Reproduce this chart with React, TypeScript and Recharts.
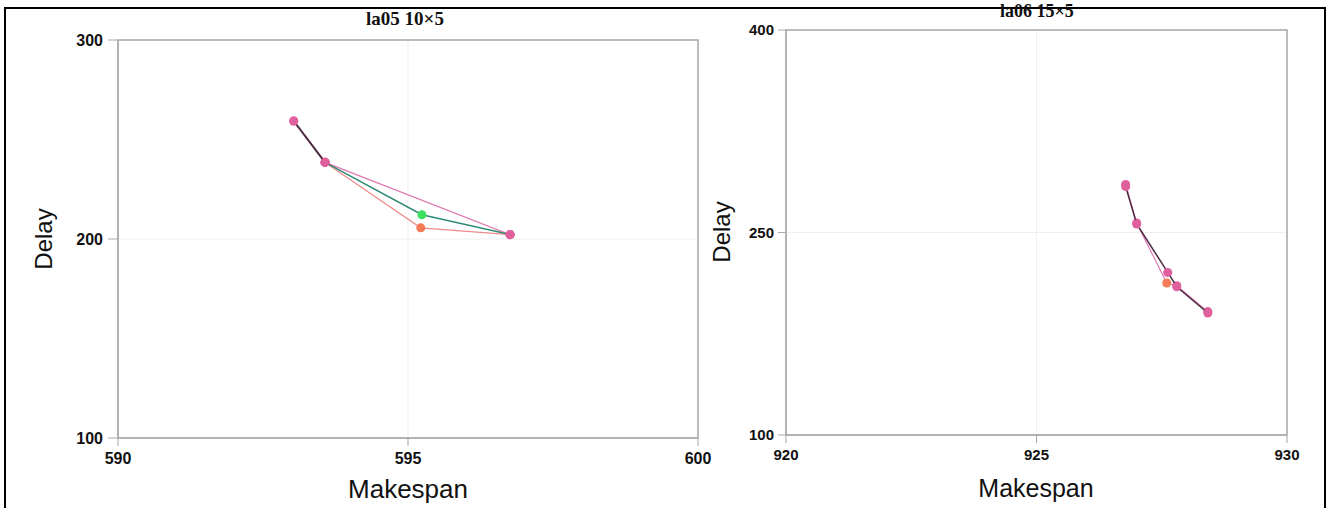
import React from 'react'
import {
  ScatterChart,
  Scatter,
  XAxis,
  YAxis,
  CartesianGrid,
  ReferenceArea,
  Label,
  Cell,
} from 'recharts'

// la05 10x5 (left panel)
const la05DarkPath = [
  { x: 593.03, y: 259.3 },
  { x: 593.57, y: 238.5 },
]
const la05PinkPath = [
  { x: 593.03, y: 259.3 },
  { x: 593.57, y: 238.5 },
  { x: 596.76, y: 202.2 },
]
const la05GreenPath = [
  { x: 593.57, y: 238.5 },
  { x: 595.24, y: 212.2 },
  { x: 596.76, y: 202.2 },
]
const la05RedPath = [
  { x: 593.57, y: 238.5 },
  { x: 595.22, y: 205.6 },
  { x: 596.76, y: 202.2 },
]
const la05XTicks = [590, 595, 600]
const la05YTicks = [100, 200, 300]

// la06 15x5 (right panel)
const la06DarkPath = [
  { x: 926.78, y: 284.0 },
  { x: 927.0, y: 256.3 },
  { x: 927.62, y: 220.4 },
  { x: 927.8, y: 209.8 },
  { x: 928.42, y: 190.4 },
]
const la06PinkPath = [
  { x: 926.78, y: 285.6 },
  { x: 927.0, y: 257.0 },
  { x: 927.6, y: 212.6 },
  { x: 927.8, y: 210.6 },
  { x: 928.42, y: 191.4 },
]
const la06PinkMarks = ['#e0609e', '#e0609e', '#f47a58', '#e0609e', '#e0609e']
const la06XTicks = [920, 925, 930]
const la06YTicks = [100, 250, 400]

const tickFont = { fontFamily: 'Liberation Sans, Arial', fontWeight: 700, fill: '#111' }
const axisGray = '#a8a8a8'
const pinkMark = '#e0609e'

const axisTitle = (text: string, x: number, y: number, rotate: boolean, size = 24) => () => (
  <text
    x={x}
    y={y}
    textAnchor="middle"
    transform={rotate ? `rotate(-90 ${x} ${y})` : undefined}
    fontFamily="Liberation Sans, Arial"
    fontSize={size}
    fill="#111"
  >
    {text}
  </text>
)

export default function App() {
  return (
    <div style={{ position: 'absolute', left: 0, top: 0, width: 1326, height: 508, background: '#fff', overflow: 'hidden' }}>
      <div
        style={{
          position: 'absolute',
          left: 4,
          top: 7,
          width: 1318,
          height: 510,
          borderTop: '2px solid #000',
          borderLeft: '2px solid #000',
          borderRight: '2px solid #000',
        }}
      />

      <div style={{ position: 'absolute', left: 0, top: 0 }}>
        <ScatterChart width={720} height={508} margin={{ top: 40, right: 22, bottom: 0, left: 0 }}>
          <CartesianGrid stroke="#efefef" />
          <XAxis
            type="number"
            dataKey="x"
            domain={[590, 600]}
            ticks={la05XTicks}
            allowDataOverflow
            height={70}
            tickSize={8}
            tickMargin={7}
            stroke={axisGray}
            tick={{ ...tickFont, fontSize: 16 }}
          >
            <Label content={axisTitle('Makespan', 408, 498, false, 26)} />
          </XAxis>
          <YAxis
            type="number"
            dataKey="y"
            domain={[100, 300]}
            ticks={la05YTicks}
            allowDataOverflow
            width={118}
            tickSize={10}
            tickMargin={5}
            stroke={axisGray}
            tick={{ ...tickFont, fontSize: 16 }}
          >
            <Label content={axisTitle('Delay', 52, 239, true)} />
          </YAxis>
          <ReferenceArea x1={590} x2={600} y1={100} y2={300} fill="none" stroke={axisGray} strokeWidth={1.5} />
          <Scatter data={la05PinkPath} fill={pinkMark} line={{ stroke: '#e07ab2', strokeWidth: 1.2 }} isAnimationActive={false} />
          <Scatter data={la05RedPath} fill="#f47a58" line={{ stroke: '#f08a8a', strokeWidth: 1.2 }} isAnimationActive={false}>
            {la05RedPath.map((_, i) => (
              <Cell key={`r-${i}`} fill={i === 1 ? '#f47a58' : pinkMark} />
            ))}
          </Scatter>
          <Scatter data={la05GreenPath} fill="#3ee060" line={{ stroke: '#2f8a76', strokeWidth: 1.5 }} isAnimationActive={false}>
            {la05GreenPath.map((_, i) => (
              <Cell key={`g-${i}`} fill={i === 1 ? '#3ee060' : pinkMark} />
            ))}
          </Scatter>
          <Scatter data={la05DarkPath} fill={pinkMark} line={{ stroke: '#4a2a40', strokeWidth: 2 }} isAnimationActive={false} />
        </ScatterChart>
      </div>

      <div style={{ position: 'absolute', left: 700, top: 0 }}>
        <ScatterChart width={626} height={508} margin={{ top: 30, right: 39, bottom: 0, left: 0 }}>
          <CartesianGrid stroke="#efefef" />
          <XAxis
            type="number"
            dataKey="x"
            domain={[920, 930]}
            ticks={la06XTicks}
            allowDataOverflow
            height={73}
            tickSize={8}
            tickMargin={6}
            stroke={axisGray}
            tick={{ ...tickFont, fontSize: 15 }}
          >
            <Label content={axisTitle('Makespan', 336, 497, false, 25)} />
          </XAxis>
          <YAxis
            type="number"
            dataKey="y"
            domain={[100, 400]}
            ticks={la06YTicks}
            allowDataOverflow
            width={86}
            tickSize={8}
            tickMargin={4}
            stroke={axisGray}
            tick={{ ...tickFont, fontSize: 15 }}
          >
            <Label content={axisTitle('Delay', 30, 232, true)} />
          </YAxis>
          <ReferenceArea x1={920} x2={930} y1={100} y2={400} fill="none" stroke={axisGray} strokeWidth={1.5} />
          <Scatter data={la06PinkPath} fill={pinkMark} line={{ stroke: '#e07ab2', strokeWidth: 1.2 }} isAnimationActive={false}>
            {la06PinkPath.map((_, i) => (
              <Cell key={`p-${i}`} fill={la06PinkMarks[i]} />
            ))}
          </Scatter>
          <Scatter data={la06DarkPath} fill={pinkMark} line={{ stroke: '#4a2a40', strokeWidth: 1.5 }} isAnimationActive={false} />
        </ScatterChart>
      </div>

      <div
        style={{
          position: 'absolute',
          left: 305,
          top: 8,
          width: 200,
          textAlign: 'center',
          fontFamily: 'Liberation Serif, Times New Roman',
          fontWeight: 700,
          fontSize: 19,
          lineHeight: '22px',
          color: '#111',
        }}
      >
        la05 10×5
      </div>
      <div
        style={{
          position: 'absolute',
          left: 937,
          top: 1,
          width: 200,
          textAlign: 'center',
          fontFamily: 'Liberation Serif, Times New Roman',
          fontWeight: 700,
          fontSize: 18,
          lineHeight: '20px',
          color: '#111',
        }}
      >
        la06 15×5
      </div>
    </div>
  )
}
